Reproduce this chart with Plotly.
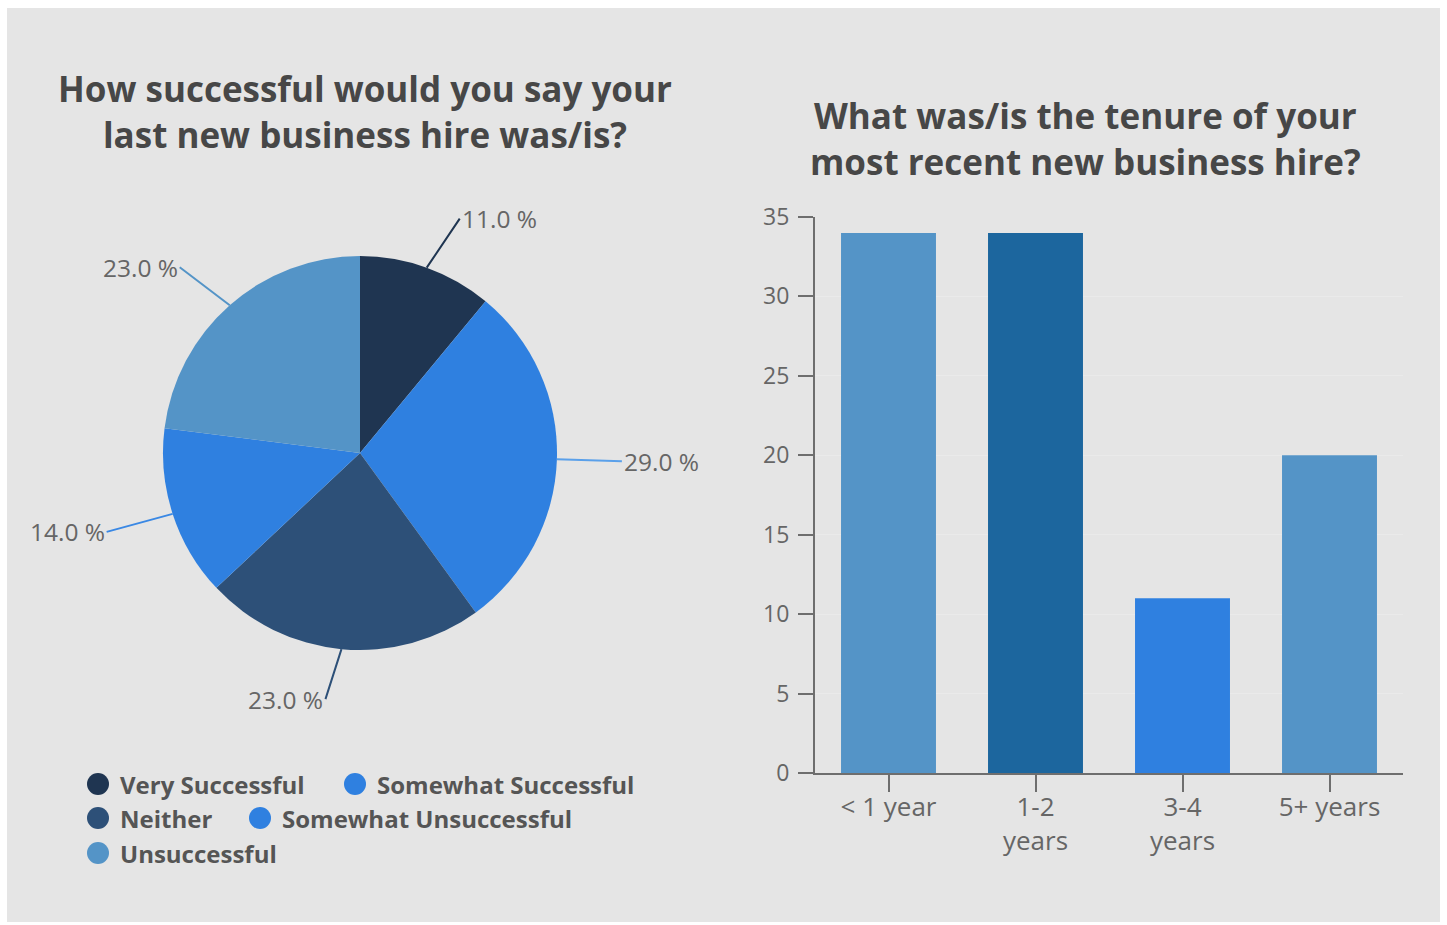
import numpy as np
import plotly.graph_objects as go

W, H = 1447, 925

# ---- data -------------------------------------------------------------
pie_labels = ["Very Successful", "Somewhat Successful", "Neither",
              "Somewhat Unsuccessful", "Unsuccessful"]
pie_values = [11.0, 29.0, 23.0, 14.0, 23.0]

tenure_labels = ["< 1 year", "1-2<br>years", "3-4<br>years", "5+ years"]
tenure_counts = [34, 34, 11, 20]

y_tick_vals = [0, 5, 10, 15, 20, 25, 30, 35]

# ---- styling ----------------------------------------------------------
pie_colors = ["#1f3551", "#2f80e0", "#2d5078", "#2f80e0", "#5494c7"]
leader_colors = ["#1f3551", "#5aa0ea", "#2d5078", "#3a88e4", "#5494c7"]
bar_colors = ["#5494c7", "#1c669e", "#2f80e0", "#5494c7"]
BG = "#e5e5e5"
TXT = "#666666"
TITLE = "#474747"
LEG_TXT = "#555555"
FONT = "Open Sans"

# pie geometry in pixels
PIE_CX, PIE_CY, PIE_R = 360, 453, 197
# label leader offsets (px) from the slice rim, and text anchor side
leader_offsets = [(33, -49), (65, 2), (-16, 50), (-66, 18), (-50, -38)]
leader_anchor = ["left", "left", "right", "right", "right"]

# bar plot area in pixels
BAR_X0, BAR_X1 = 815, 1403
BAR_Y0, BAR_Y1 = 217, 773

# legend entry positions (symbol centre, px)
legend_pos = [(98, 784), (355, 784), (98, 818), (260, 818), (98, 853)]
LEG_R = 11


def px_x(x):
    return x / W


def px_y(y):
    return 1 - y / H


fig = go.Figure()

fig.add_trace(go.Pie(
    labels=pie_labels,
    values=pie_values,
    marker=dict(colors=pie_colors, line=dict(width=0)),
    sort=False,
    direction="clockwise",
    rotation=0,
    textinfo="none",
    hoverinfo="label+percent",
    showlegend=False,
    domain=dict(x=[px_x(PIE_CX - PIE_R), px_x(PIE_CX + PIE_R)],
                y=[px_y(PIE_CY + PIE_R), px_y(PIE_CY - PIE_R)]),
))

fig.add_trace(go.Bar(
    x=tenure_labels,
    y=tenure_counts,
    marker=dict(color=bar_colors, line=dict(width=0)),
    showlegend=False,
    xaxis="x", yaxis="y",
))

shapes = [dict(type="rect", xref="paper", yref="paper",
               x0=px_x(7), x1=px_x(1440), y0=px_y(922), y1=px_y(8),
               fillcolor=BG, line=dict(width=0), layer="below")]
annotations = []

# legend: round swatches with bold labels
for lab, col, (mx, my) in zip(pie_labels, pie_colors, legend_pos):
    shapes.append(dict(
        type="circle", xref="paper", yref="paper",
        xsizemode="pixel", ysizemode="pixel",
        xanchor=px_x(mx), yanchor=px_y(my),
        x0=-LEG_R, x1=LEG_R, y0=-LEG_R, y1=LEG_R,
        fillcolor=col, line=dict(width=0),
    ))
    annotations.append(dict(
        x=px_x(mx + 20), y=px_y(my), xref="paper", yref="paper",
        text=lab, showarrow=False, xanchor="left", yanchor="middle",
        font=dict(family=FONT, size=24, color=LEG_TXT, weight=700),
    ))

# percentage labels with leader lines, placed from the slice mid-angles
vals = np.array(pie_values)
mid = (np.cumsum(vals) - vals / 2) / vals.sum()
theta = np.pi / 2 - 2 * np.pi * mid
for v, th, (ox, oy), anc, lc in zip(vals, theta, leader_offsets, leader_anchor, leader_colors):
    ex = PIE_CX + PIE_R * np.cos(th)
    ey = PIE_CY - PIE_R * np.sin(th)
    annotations.append(dict(
        x=px_x(ex), y=px_y(ey), xref="paper", yref="paper",
        ax=ox, ay=oy, axref="pixel", ayref="pixel",
        text=f"{v:.1f} %", showarrow=True, arrowhead=0, arrowwidth=2,
        arrowcolor=lc, standoff=0, startstandoff=0,
        xanchor=anc, yanchor="middle",
        font=dict(family=FONT, size=24.5, color=TXT),
    ))

# chart titles
titles = [
    ("How successful would you say your<br>last new business hire was/is?", 365, 111),
    ("What was/is the tenure of your<br>most recent new business hire?", 1085, 138),
]
for txt, tx, ty in titles:
    annotations.append(dict(
        x=px_x(tx), y=px_y(ty), xref="paper", yref="paper", showarrow=False,
        text=txt, xanchor="center", yanchor="middle",
        font=dict(family=FONT, size=35, color=TITLE, weight=700),
    ))

fig.update_layout(
    width=W, height=H,
    margin=dict(l=0, r=0, t=0, b=0, autoexpand=False),
    paper_bgcolor="white",
    plot_bgcolor="rgba(0,0,0,0)",
    bargap=0.354,
    showlegend=False,
    annotations=annotations,
    shapes=shapes,
    xaxis=dict(
        domain=[px_x(BAR_X0), px_x(BAR_X1)],
        automargin=False,
        showline=True, linecolor="#6e6e6e", linewidth=2,
        ticks="outside", ticklen=17, tickwidth=2, tickcolor="#6e6e6e",
        tickfont=dict(family=FONT, size=26, color=TXT),
        ticklabelstandoff=-7,
        showgrid=False, zeroline=False,
    ),
    yaxis=dict(
        domain=[px_y(BAR_Y1), px_y(BAR_Y0)],
        automargin=False,
        range=[0, 35], tickvals=y_tick_vals,
        showline=True, linecolor="#6e6e6e", linewidth=2,
        ticks="outside", ticklen=15, tickwidth=2, tickcolor="#6e6e6e",
        tickfont=dict(family=FONT, size=23, color=TXT),
        ticklabelstandoff=4,
        showgrid=True, gridcolor="#eaeaea", gridwidth=1,
        zeroline=False,
    ),
)

fig.write_html("out.html")
